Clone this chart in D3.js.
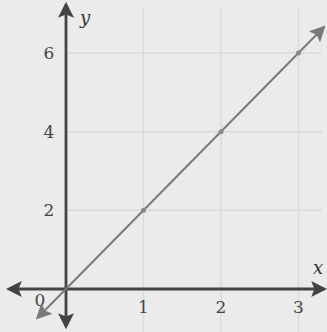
<!DOCTYPE html>
<html>
<head>
<meta charset="utf-8">
<script src="https://cdn.jsdelivr.net/npm/d3@7"></script>
<style>
  html, body { margin: 0; padding: 0; background: #ebebeb; }
  svg { display: block; }
</style>
</head>
<body>
<svg id="chart" width="327" height="332"></svg>
<script>
// y = 2x, drawn on a first-quadrant grid
const xTicks = [1, 2, 3];
const yTicks = [2, 4, 6];
const points = [
  { x: 1, y: 2 },
  { x: 2, y: 4 },
  { x: 3, y: 6 }
];
const lineXRange = [-0.36, 3.32];
const slope = 2;

const W = 327, H = 332;
const svg = d3.select("#chart");

const x = d3.scaleLinear().domain([0, 3]).range([66, 298.5]);
const y = d3.scaleLinear().domain([0, 6]).range([289, 53]);

const gridColor = "#d5dcdc";
const axisColor = "#444444";
const lineColor = "#7a7a7a";

const defs = svg.append("defs");
function arrow(id, color, size) {
  defs.append("marker")
    .attr("id", id)
    .attr("viewBox", "0 0 10 10")
    .attr("refX", 8).attr("refY", 5)
    .attr("markerWidth", size).attr("markerHeight", size)
    .attr("markerUnits", "userSpaceOnUse")
    .attr("orient", "auto-start-reverse")
    .append("path")
    .attr("d", "M0,0 L10,5 L0,10 L2,5 Z")
    .attr("fill", color);
}
arrow("axArrow", axisColor, 16);
arrow("lnArrow", lineColor, 16);

// grid
const grid = svg.append("g");
grid.selectAll("line.v").data(xTicks).join("line")
  .attr("x1", d => x(d)).attr("x2", d => x(d))
  .attr("y1", 7).attr("y2", H)
  .attr("stroke", gridColor).attr("stroke-width", 1.5);
grid.selectAll("line.h").data(yTicks).join("line")
  .attr("x1", x(0)).attr("x2", W - 5)
  .attr("y1", d => y(d)).attr("y2", d => y(d))
  .attr("stroke", gridColor).attr("stroke-width", 1.5);

// axes with arrows at both ends
svg.append("line")
  .attr("x1", 9).attr("x2", 324)
  .attr("y1", y(0)).attr("y2", y(0))
  .attr("stroke", axisColor).attr("stroke-width", 2.8)
  .attr("marker-start", "url(#axArrow)")
  .attr("marker-end", "url(#axArrow)");
svg.append("line")
  .attr("x1", x(0)).attr("x2", x(0))
  .attr("y1", 326).attr("y2", 5)
  .attr("stroke", axisColor).attr("stroke-width", 2.8)
  .attr("marker-start", "url(#axArrow)")
  .attr("marker-end", "url(#axArrow)");

// tick labels
const font = "'DejaVu Serif', 'Liberation Serif', serif";
svg.selectAll("text.xt").data(xTicks).join("text")
  .attr("x", d => x(d)).attr("y", 313)
  .attr("text-anchor", "middle")
  .attr("font-family", font).attr("font-size", 17)
  .attr("fill", "#444").text(d => d);
svg.selectAll("text.yt").data(yTicks).join("text")
  .attr("x", 49).attr("y", d => y(d) + 6)
  .attr("text-anchor", "middle")
  .attr("font-family", font).attr("font-size", 17)
  .attr("fill", "#444").text(d => d);
svg.append("text")
  .attr("x", 40).attr("y", 306)
  .attr("text-anchor", "middle")
  .attr("font-family", font).attr("font-size", 17)
  .attr("fill", "#444").text("0");

// axis names
svg.append("text")
  .attr("x", 85).attr("y", 24)
  .attr("text-anchor", "middle")
  .attr("font-family", font).attr("font-style", "italic").attr("font-size", 18)
  .attr("fill", "#333").text("y");
svg.append("text")
  .attr("x", 318).attr("y", 274)
  .attr("text-anchor", "middle")
  .attr("font-family", font).attr("font-style", "italic").attr("font-size", 18)
  .attr("fill", "#333").text("x");

// the line y = 2x
const ends = lineXRange.map(v => ({ x: v, y: slope * v }));
svg.append("line")
  .attr("x1", x(ends[0].x)).attr("y1", y(ends[0].y))
  .attr("x2", x(ends[1].x)).attr("y2", y(ends[1].y))
  .attr("stroke", lineColor).attr("stroke-width", 2)
  .attr("marker-start", "url(#lnArrow)")
  .attr("marker-end", "url(#lnArrow)");

svg.selectAll("circle.pt").data(points).join("circle")
  .attr("cx", d => x(d.x)).attr("cy", d => y(d.y))
  .attr("r", 2.5).attr("fill", "#8a8a8a");
</script>
</body>
</html>
